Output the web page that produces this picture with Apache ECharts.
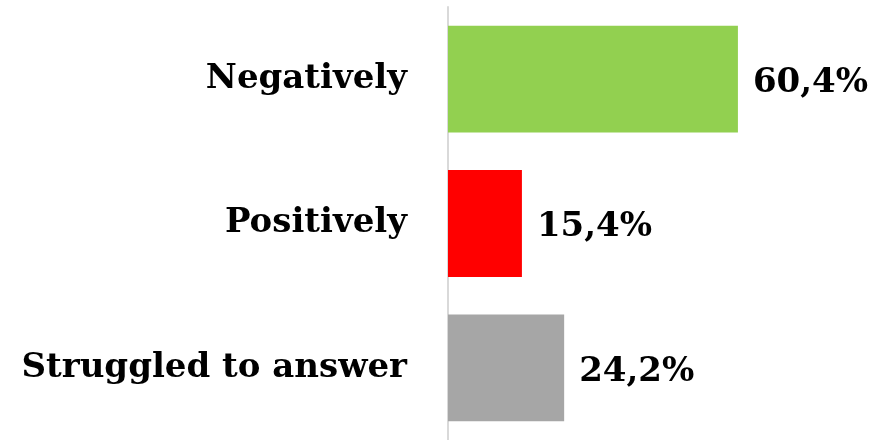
<!DOCTYPE html>
<html>
<head>
<meta charset="utf-8">
<script src="https://cdn.jsdelivr.net/npm/echarts@6/dist/echarts.min.js"></script>
<style>
  html, body { margin: 0; padding: 0; background: #fff; }
  #main { width: 891px; height: 440px; }
</style>
</head>
<body>
<div id="main"></div>
<script>
// categories top to bottom
const categories = ['Negatively', 'Positively', 'Struggled to answer'];
const values = [60.4, 15.4, 24.2];
const colors = ['#92D050', '#FF0000', '#A6A6A6'];

const font = '"DejaVu Serif", serif';

const chart = echarts.init(document.getElementById('main'));
chart.setOption({
  animation: false,
  grid: { left: 448, right: 11, top: 7, height: 437, containLabel: false },
  xAxis: {
    type: 'value',
    min: 0,
    max: 90,
    show: false
  },
  yAxis: {
    type: 'category',
    inverse: true,
    data: categories,
    axisTick: { show: false },
    axisLine: { lineStyle: { color: '#d9d9d9', width: 2 } },
    axisLabel: {
      margin: 41,
      color: '#000',
      fontFamily: font,
      fontWeight: 'bold',
      fontSize: 34
    }
  },
  series: [{
    type: 'bar',
    barCategoryGap: '26%',
    data: values.map((v, i) => ({ value: v, itemStyle: { color: colors[i] } })),
    label: {
      show: true,
      position: 'right',
      distance: 15,
      offset: [0, 4],
      color: '#000',
      fontFamily: font,
      fontWeight: 'bold',
      fontSize: 34,
      formatter: p => p.value.toFixed(1).replace('.', ',') + '%'
    }
  }]
});
</script>
</body>
</html>
